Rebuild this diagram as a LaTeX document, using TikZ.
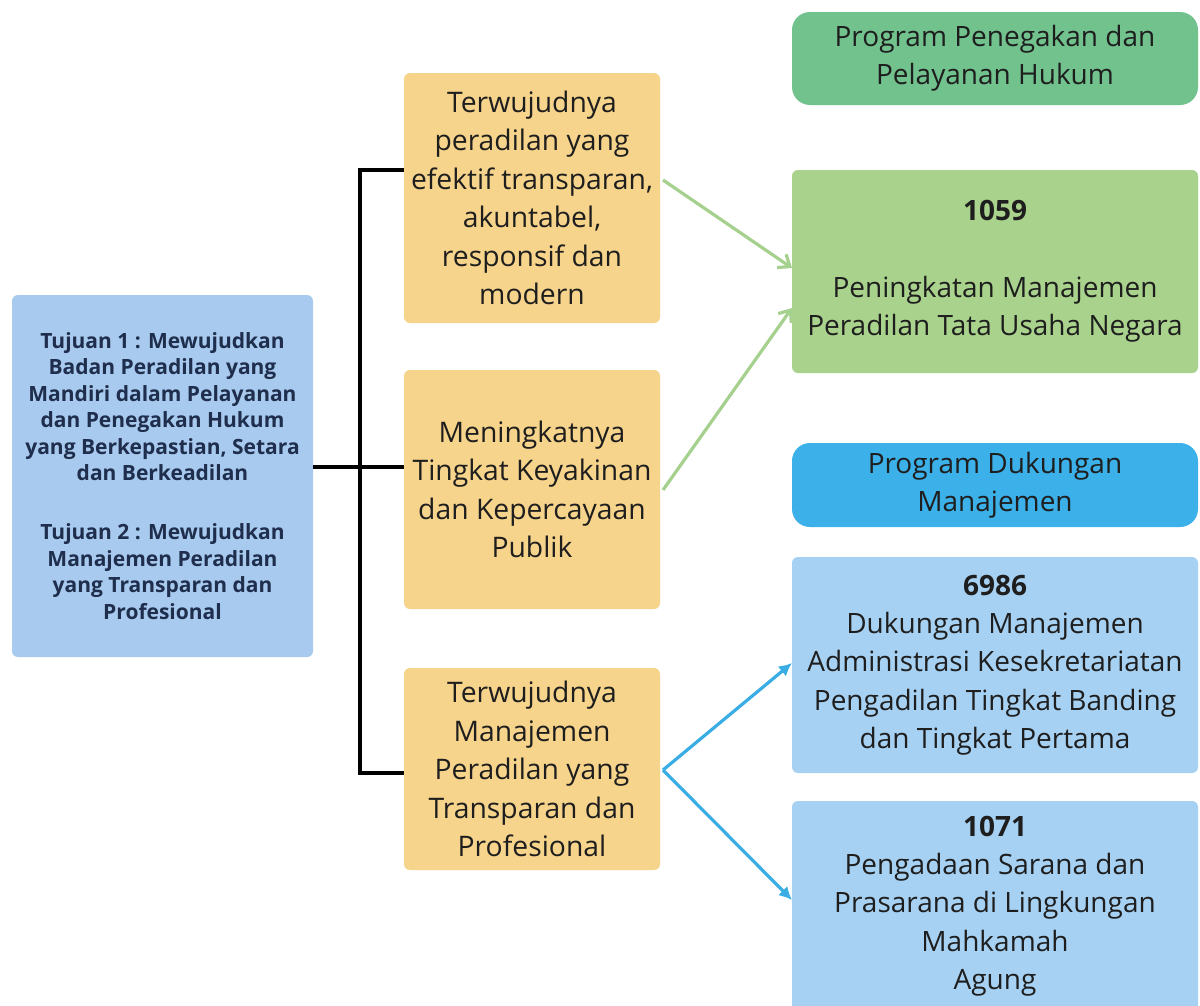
\documentclass[tikz,border=0pt]{standalone}
\usepackage{fontspec}
\setmainfont{Open Sans}
\usetikzlibrary{arrows.meta}
\definecolor{leftblue}{HTML}{A8CAEE}
\definecolor{yel}{HTML}{F7D48C}
\definecolor{progG}{HTML}{72C28E}
\definecolor{ltG}{HTML}{A9D38C}
\definecolor{progB}{HTML}{3BB0E9}
\definecolor{ltB}{HTML}{A7D1F2}
\definecolor{arrG}{HTML}{A6D08E}
\definecolor{arrB}{HTML}{39ADE4}
\definecolor{navy}{HTML}{1F2E4C}
\definecolor{txt}{HTML}{1E1E1E}
\begin{document}
\begin{tikzpicture}[x=1pt,y=-1pt,
  box/.style={inner sep=0pt, outer sep=0pt, align=center, text=txt, rounded corners=6pt},
  yelbox/.style={box, fill=yel, minimum width=256pt, font=\fontsize{28.3}{38.5}\selectfont},
  rbox/.style={box, minimum width=406pt, font=\fontsize{28}{38.3}\selectfont},
  brk/.style={line width=3.5pt, black},
  garr/.style={draw=arrG, line width=3.2pt, -{Straight Barb[length=10pt,width=16pt]}},
  barr/.style={draw=arrB, line width=3.2pt, -{Latex[length=13pt,width=13pt]}}
]
\useasboundingbox (0,0) rectangle (1200,1005);
\fill[white] (0,0) rectangle (1200,1005);

% left box
\node[box, fill=leftblue, minimum width=301pt, minimum height=362pt, text=navy,
  font=\bfseries\fontsize{21}{26.4}\selectfont] (L) at (162.5,476)
  {Tujuan 1 : Mewujudkan\\Badan Peradilan yang\\Mandiri dalam Pelayanan\\dan Penegakan Hukum\\yang Berkepastian, Setara\\dan Berkeadilan\\[33pt]Tujuan 2 : Mewujudkan\\Manajemen Peradilan\\yang Transparan dan\\Profesional};

% yellow boxes
\node[yelbox, minimum height=250pt] (Y1) at (532,198)
  {Terwujudnya\\peradilan yang\\efektif transparan,\\akuntabel,\\responsif dan\\modern};
\node[yelbox, minimum height=239pt] (Y2) at (532,489.5)
  {Meningkatnya\\Tingkat Keyakinan\\dan Kepercayaan\\Publik};
\node[yelbox, minimum height=202pt] (Y3) at (532,769)
  {Terwujudnya\\Manajemen\\Peradilan yang\\Transparan dan\\Profesional};

% right boxes
\node[rbox, fill=progG, rounded corners=18pt, minimum height=93pt] (P1) at (995,58.5)
  {Program Penegakan dan\\Pelayanan Hukum};
\node[rbox, fill=ltG, minimum height=203pt] (R1) at (995,271.5)
  {\textbf{1059}\\[38pt]Peningkatan Manajemen\\Peradilan Tata Usaha Negara};
\node[rbox, fill=progB, rounded corners=18pt, minimum height=84pt] (P2) at (995,485)
  {Program Dukungan\\Manajemen};
\node[rbox, fill=ltB, minimum height=216pt] (R2) at (995,665)
  {\textbf{6986}\\Dukungan Manajemen\\Administrasi Kesekretariatan\\Pengadilan Tingkat Banding\\dan Tingkat Pertama};
\node[rbox, fill=ltB, minimum height=210pt] (R3) at (995,906)
  {\textbf{1071}\\Pengadaan Sarana dan\\Prasarana di Lingkungan\\Mahkamah\\Agung};

% bracket
\coordinate (J) at (360,467);
\draw[brk] (L.east |- J) -- (Y2.west |- J);
\draw[brk] (Y1.west |- 0,170) -- (360,170) -- (360,773) -- (Y3.west |- 0,773);

% arrows
\draw[garr] (663,180) -- (R1.west |- 0,268);
\draw[garr] (663,490) -- (R1.west |- 0,308);
\coordinate (B) at (663,770);
\draw[barr] (B) -- (R2.west |- 0,663);
\draw[barr] (B) -- (R3.west |- 0,900);
\end{tikzpicture}
\end{document}
